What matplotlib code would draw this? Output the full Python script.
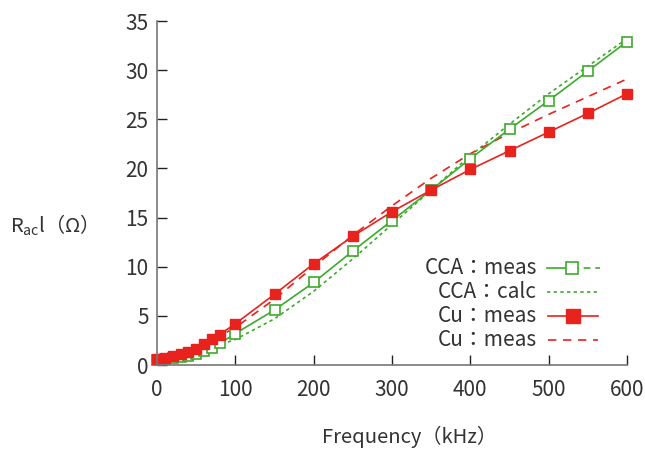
import matplotlib
matplotlib.use("Agg")
import matplotlib.pyplot as plt
from matplotlib.lines import Line2D

plt.rcParams['font.family'] = ['Noto Sans CJK JP', 'DejaVu Sans']
plt.rcParams['mathtext.fontset'] = 'custom'
plt.rcParams['mathtext.rm'] = 'Noto Sans CJK JP'

# ---- data ----
cu_meas_f = [0, 10, 20, 30, 40, 50, 60, 70, 80, 100, 150, 200, 250, 300, 350, 400, 450, 500, 550, 600]
cu_meas_r = [0.65, 0.75, 0.9, 1.1, 1.35, 1.65, 2.1, 2.6, 3.1, 4.2, 7.2, 10.3, 13.1, 15.6, 17.8, 19.9, 21.8, 23.7, 25.6, 27.6]

cca_meas_f = [0, 10, 20, 30, 40, 50, 60, 70, 80, 100, 150, 200, 250, 300, 350, 400, 450, 500, 550, 600]
cca_meas_r = [0.55, 0.6, 0.7, 0.8, 0.95, 1.15, 1.4, 1.75, 2.2, 3.2, 5.6, 8.4, 11.6, 14.7, 17.8, 21.0, 24.0, 26.9, 29.9, 32.9]

calc_f = [0, 50, 100, 150, 200, 250, 300, 350, 400, 450, 500, 550, 600]
cca_calc_r = [0.5, 1.2, 2.6, 4.7, 7.5, 10.8, 14.3, 17.8, 21.3, 24.5, 27.6, 30.4, 33.2]
cu_calc_r = [0.6, 1.7, 3.8, 6.7, 10.0, 13.2, 16.2, 19.0, 21.5, 23.6, 25.5, 27.3, 29.1]

xticks = [0, 100, 200, 300, 400, 500, 600]
yticks = [0, 5, 10, 15, 20, 25, 30, 35]

RED = '#e8221c'
GREEN = '#3daa2c'
TXT = '#333333'

fig = plt.figure(figsize=(6.45, 4.53), dpi=100)
ax = fig.add_axes([157/645, 1-365/453, (627-157)/645, (365-21)/453])

ax.plot(calc_f, cca_calc_r, color=GREEN, lw=1.2, ls=(0, (2, 2)), clip_on=False)
ax.plot(calc_f, cu_calc_r, color=RED, lw=1.2, ls=(0, (5, 4)), clip_on=False)
ax.plot(cca_meas_f, cca_meas_r, color=GREEN, lw=1.2, marker='s', ms=6.5,
        mfc='white', mec=GREEN, mew=1.2, clip_on=False)
ax.plot(cu_meas_f, cu_meas_r, color=RED, lw=1.2, marker='s', ms=6.8,
        mfc=RED, mec=RED, clip_on=False)

ax.set_xlim(0, 600)
ax.set_ylim(0, 35)
ax.set_xticks(xticks)
ax.set_yticks(yticks)
ax.tick_params(direction='in', length=7, width=1, color='#222222',
               labelsize=15, labelcolor=TXT, pad=6)
ax.tick_params(axis='x', pad=10)
for s in ['top', 'right']:
    ax.spines[s].set_visible(False)
for s in ['left', 'bottom']:
    ax.spines[s].set_color('#777777')
    ax.spines[s].set_linewidth(1.2)

fig.text(410/645, 1-437/453, 'Frequency（kHz）', ha='center', va='center',
         fontsize=14.5, color=TXT)
fig.text(10/645, 1-225/453, r'R$_{\mathrm{ac}}$l（Ω）', ha='left', va='center',
         fontsize=14.5, color=TXT)

# manual legend
rows = [268, 292, 316, 340]
labels = ['CCA：meas', 'CCA：calc', 'Cu：meas', 'Cu：meas']
for yy, lab in zip(rows, labels):
    fig.text(537/645, 1-yy/453, lab, ha='right', va='center', fontsize=15, color=TXT)

def fx(px):
    return px/645
def fy(py):
    return 1-py/453

fig.add_artist(Line2D([fx(547), fx(572)], [fy(268)]*2, color=GREEN, lw=1.2))
fig.add_artist(Line2D([fx(572), fx(600)], [fy(268)]*2, color=GREEN, lw=1.2, ls=(0, (4, 3))))
fig.add_artist(Line2D([fx(572)], [fy(268)], marker='s', ms=9, mfc='white', mec=GREEN, mew=1.2, lw=0))
fig.add_artist(Line2D([fx(547), fx(598)], [fy(292)]*2, color=GREEN, lw=1.2, ls=(0, (2, 2))))
fig.add_artist(Line2D([fx(548), fx(598)], [fy(316)]*2, color=RED, lw=1.2))
fig.add_artist(Line2D([fx(573)], [fy(316)], marker='s', ms=9.5, mfc=RED, mec=RED, lw=0))
fig.add_artist(Line2D([fx(548), fx(598)], [fy(340)]*2, color=RED, lw=1.2, ls=(0, (5, 4))))

fig.savefig('out.png', dpi=100)
